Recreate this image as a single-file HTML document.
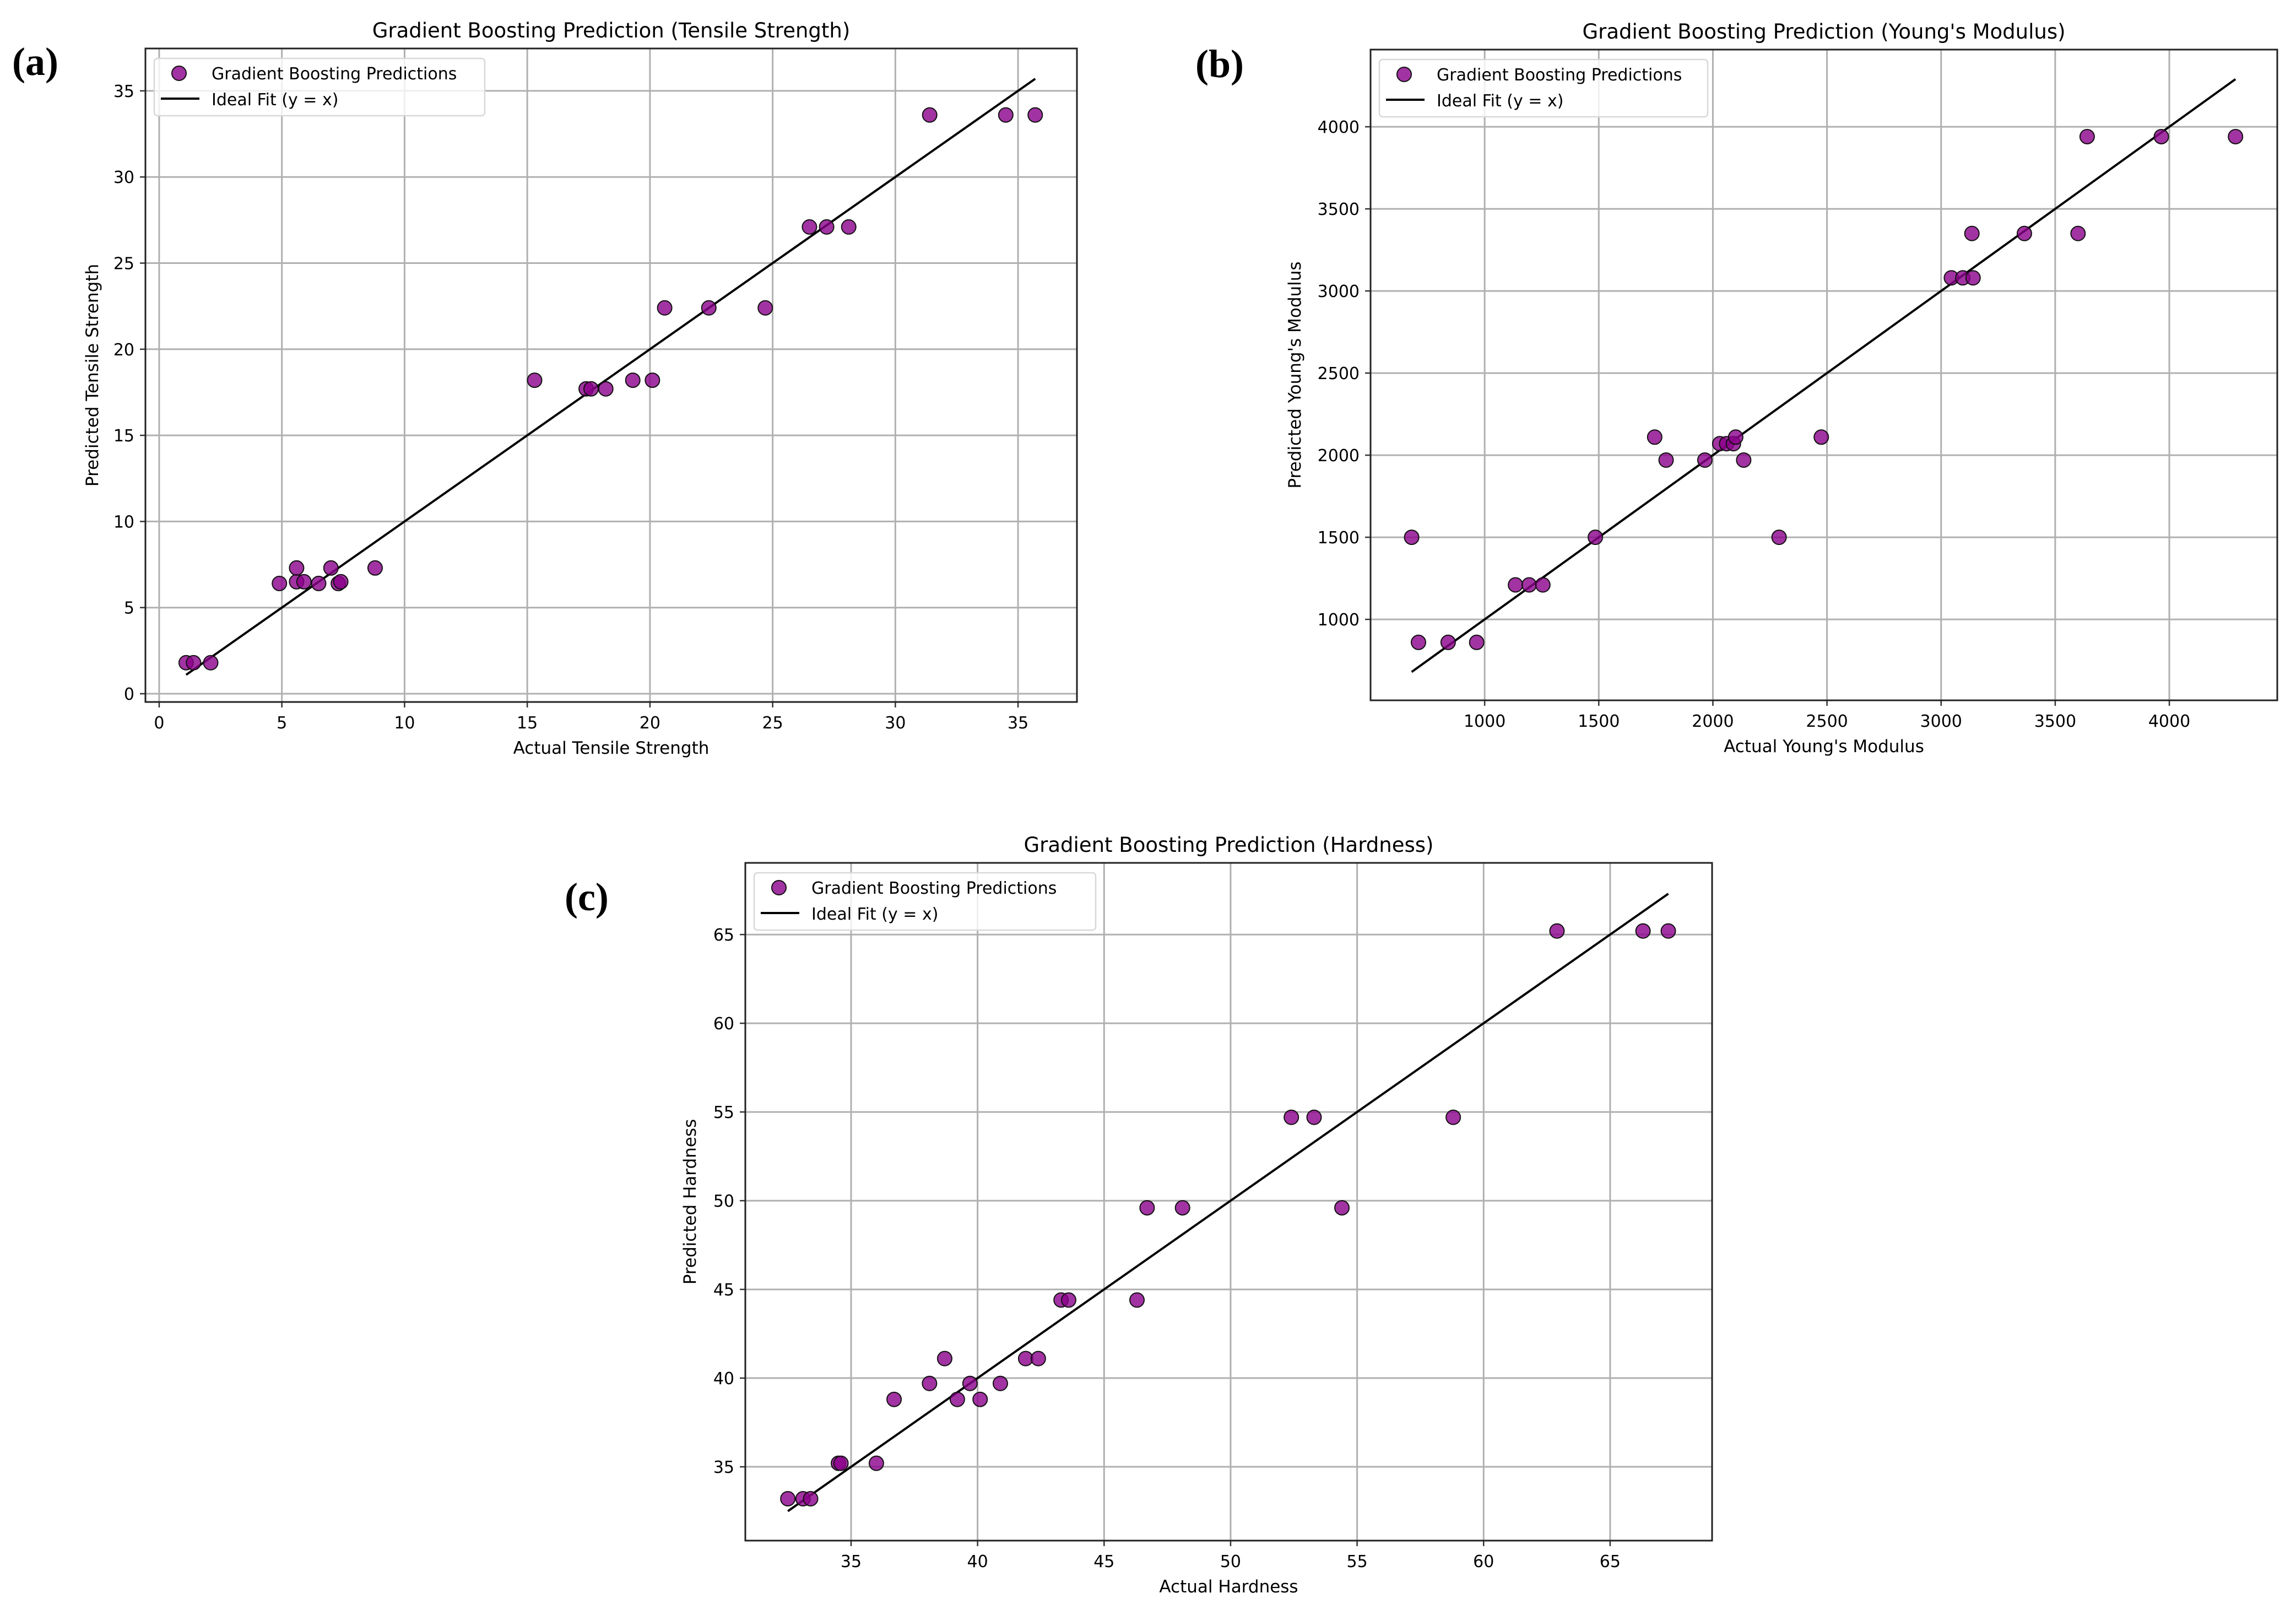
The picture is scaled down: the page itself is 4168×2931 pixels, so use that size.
<!DOCTYPE html>
<html><head><meta charset="utf-8"><style>
html,body{margin:0;padding:0;background:#fff;}
svg{display:block;}
text{font-family:"DejaVu Sans","Liberation Sans",sans-serif;fill:#000;}
.lbl{font-family:"Liberation Serif",serif;font-weight:bold;font-size:72px;}
</style></head><body>
<svg id="fig" width="4168" height="2931" viewBox="0 0 4168 2931" xmlns="http://www.w3.org/2000/svg">
<text class="lbl" x="22" y="136">(a)</text>
<text class="lbl" x="2170" y="140">(b)</text>
<text class="lbl" x="1025" y="1652">(c)</text>
</svg>
<script>
// ---- data: (a) Tensile Strength ----
const tsActual = [1.1,1.4,2.1,4.9,5.6,5.6,5.9,6.5,7.0,7.3,7.4,8.8,15.3,17.4,17.6,18.2,19.3,20.1,20.6,22.4,24.7,26.5,27.2,28.1,31.4,34.5,35.7];
const tsPred   = [1.8,1.8,1.8,6.4,6.5,7.3,6.5,6.4,7.3,6.4,6.5,7.3,18.2,17.7,17.7,17.7,18.2,18.2,22.4,22.4,22.4,27.1,27.1,27.1,33.6,33.6,33.6];
const tsTicks  = [0,5,10,15,20,25,30,35];
// ---- data: (b) Young's Modulus ----
const ymActual = [680,710,840,965,1135,1195,1255,1485,1745,1795,1965,2030,2060,2090,2100,2135,2290,2475,3045,3095,3140,3135,3365,3600,3640,3965,4290];
const ymPred   = [1500,860,860,860,1210,1210,1210,1500,2110,1970,1970,2070,2070,2070,2110,1970,1500,2110,3080,3080,3080,3350,3350,3350,3940,3940,3940];
const ymXTicks = [1000,1500,2000,2500,3000,3500,4000];
const ymYTicks = [1000,1500,2000,2500,3000,3500,4000];
// ---- data: (c) Hardness ----
const hdActual = [32.5,33.1,33.4,34.5,34.6,36.0,36.7,38.1,38.7,39.2,39.7,40.1,40.9,41.9,42.4,43.3,43.6,46.3,46.7,48.1,52.4,53.3,54.4,58.8,62.9,66.3,67.3];
const hdPred   = [33.2,33.2,33.2,35.2,35.2,35.2,38.8,39.7,41.1,38.8,39.7,38.8,39.7,41.1,41.1,44.4,44.4,44.4,49.6,49.6,54.7,54.7,49.6,54.7,65.2,65.2,65.2];
const hdTicks  = [35,40,45,50,55,60,65];

const NS='http://www.w3.org/2000/svg';
const svg=document.getElementById('fig');
function mk(tag,attrs,parent){const e=document.createElementNS(NS,tag);for(const k in attrs)e.setAttribute(k,attrs[k]);(parent||svg).appendChild(e);return e;}

function chart(cfg){
  const g=mk('g',{});
  
  
  const L=cfg.box[0],T=cfg.box[1],R=cfg.box[2],B=cfg.box[3];
  const sx=v=>L+(v-cfg.xr[0])/(cfg.xr[1]-cfg.xr[0])*(R-L);
  const sy=v=>B-(v-cfg.yr[0])/(cfg.yr[1]-cfg.yr[0])*(B-T);
  cfg.xt.forEach(v=>{
    const x=sx(v);
    const gl=mk('line',{x1:x,y1:T,x2:x,y2:B,stroke:'#b0b0b0','stroke-width':3},g);
    
    
    mk('line',{x1:x,y1:B,x2:x,y2:B+10,stroke:'#333','stroke-width':2.5},g);
    const t=mk('text',{x:x,y:B+48,'font-size':30,'text-anchor':'middle'},g);
    t.textContent=v;
    
    
  });
  cfg.yt.forEach(v=>{
    const y=sy(v);
    const gl=mk('line',{x1:L,y1:y,x2:R,y2:y,stroke:'#b0b0b0','stroke-width':3},g);
    
    
    mk('line',{x1:L-10,y1:y,x2:L,y2:y,stroke:'#333','stroke-width':2.5},g);
    const t=mk('text',{x:L-20,y:y+11,'font-size':30,'text-anchor':'end'},g);
    t.textContent=v;
    
    
  });
  const lo=Math.min(...cfg.xs),hi=Math.max(...cfg.xs);
  const ln=mk('line',{x1:sx(lo),y1:sy(lo),x2:sx(hi),y2:sy(hi),stroke:'#000','stroke-width':4},g);
  
  
  cfg.xs.forEach((v,i)=>{
    const c=mk('circle',{cx:sx(v),cy:sy(cfg.ys[i]),r:13,fill:'#8b008b','fill-opacity':0.8,stroke:'#111','stroke-width':2},g);
    
    
  });
  const fr=mk('rect',{x:L,y:T,width:R-L,height:B-T,fill:'none',stroke:'#222','stroke-width':3},g);
  
  
  const cx=(L+R)/2;
  const ti=mk('text',{x:cx,y:T-20,'font-size':37,'text-anchor':'middle'},g);
  ti.textContent=cfg.title;
  
  
  const xl=mk('text',{x:cx,y:B+94,'font-size':31,'text-anchor':'middle'},g);
  xl.textContent=cfg.xlabel;
  
  
  const yl=mk('text',{x:0,y:0,'font-size':31,'text-anchor':'middle',transform:`translate(${cfg.ylx},${(T+B)/2}) rotate(-90)`},g);
  yl.textContent=cfg.ylabel;
  
  
  const lg=mk('g',{},g);
  
  
  const lx=L+16,ly=T+18;
  mk('rect',{x:lx,y:ly,width:cfg.lw,height:104,rx:6,fill:'#fff','fill-opacity':0.8,stroke:'#d8d8d8','stroke-width':2.5},lg);
  const lm=mk('circle',{cx:lx+45,cy:ly+27,r:13,fill:'#8b008b','fill-opacity':0.8,stroke:'#111','stroke-width':2},lg);
  
  
  mk('line',{x1:lx+12,y1:ly+73,x2:lx+82,y2:ly+73,stroke:'#000','stroke-width':4},lg);
  const t1=mk('text',{x:lx+104,y:ly+38,'font-size':30},lg);
  t1.textContent='Gradient Boosting Predictions';
  
  
  const t2=mk('text',{x:lx+104,y:ly+85,'font-size':30},lg);
  t2.textContent='Ideal Fit (y = x)';
  
  
}

chart({name:'tensile-strength-chart',box:[264,88,1955,1274],xr:[-0.56,37.4],yr:[-0.48,37.46],
  xt:tsTicks,yt:tsTicks,xs:tsActual,ys:tsPred,title:'Gradient Boosting Prediction (Tensile Strength)',
  xlabel:'Actual Tensile Strength',ylabel:'Predicted Tensile Strength',ylx:178,lw:600});
chart({name:'youngs-modulus-chart',box:[2488,90,4134,1271],xr:[500,4473],yr:[507,4470],
  xt:ymXTicks,yt:ymYTicks,xs:ymActual,ys:ymPred,title:"Gradient Boosting Prediction (Young's Modulus)",
  xlabel:"Actual Young's Modulus",ylabel:"Predicted Young's Modulus",ylx:2361,lw:596});
chart({name:'hardness-chart',box:[1353,1566,3108,2796],xr:[30.82,69.03],yr:[30.84,69.04],
  xt:hdTicks,yt:hdTicks,xs:hdActual,ys:hdPred,title:'Gradient Boosting Prediction (Hardness)',
  xlabel:'Actual Hardness',ylabel:'Predicted Hardness',ylx:1263,lw:620});
</script>
</body></html>
